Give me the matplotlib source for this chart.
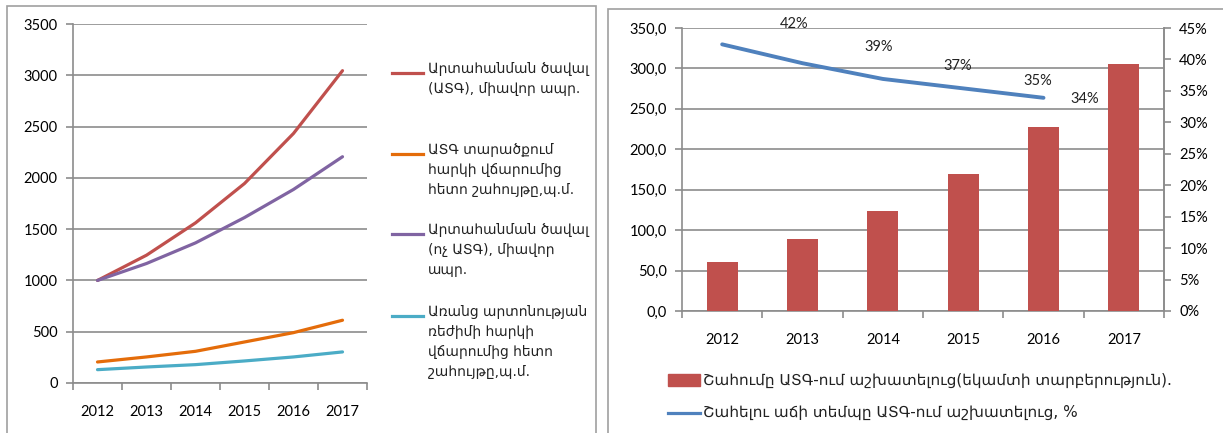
import numpy as np
import matplotlib
matplotlib.use("Agg")
import matplotlib.pyplot as plt
from matplotlib.lines import Line2D
from matplotlib.patches import Rectangle

plt.rcParams['font.family'] = ['Lato', 'DejaVu Sans']

# left chart data
years = ["2012", "2013", "2014", "2015", "2016", "2017"]
export_fez = [1000, 1246, 1561, 1945, 2433, 3045]
fez_profit = [205, 254, 309, 400, 491, 612]
export_non_fez = [1000, 1165, 1366, 1613, 1887, 2206]
no_privilege_profit = [130, 156, 179, 215, 254, 303]

left_labels = [
    "Արտահանման ծավալ\n(ԱՏԳ), միավոր ապր.",
    "ԱՏԳ տարածքում\nհարկի վճարումից\nհետո շահույթը,պ.մ.",
    "Արտահանման ծավալ\n(ոչ ԱՏԳ), միավոր\nապր.",
    "Առանց արտոնության\nռեժիմի հարկի\nվճարումից հետո\nշահույթը,պ.մ.",
]
left_colors = ["#C0504D", "#E46C0A", "#8064A2", "#4BACC6"]

# right chart data
gain = [60.6, 88.5, 123.5, 169.3, 228.0, 305.8]
gain_rate = [0.424, 0.394, 0.369, 0.354, 0.339]
rate_text = ["42%", "39%", "37%", "35%", "34%"]
right_labels = [
    "Շահումը ԱՏԳ-ում աշխատելուց(եկամտի տարբերություն).",
    "Շահելու աճի տեմպը ԱՏԳ-ում աշխատելուց, %",
]

grid_c = "#8C8C8C"
W, H = 1223, 433
fig = plt.figure(figsize=(W / 100, H / 100), dpi=100)


def fx(px):
    return px / W


def fy(py):
    return 1 - py / H


# panel frames
fig.add_artist(Rectangle((fx(7), fy(460)), fx(596) - fx(7), fy(6) - fy(460),
                         fill=False, edgecolor="#A0A0A0", lw=1.2, transform=fig.transFigure))
fig.add_artist(Rectangle((fx(608), fy(460)), fx(1260) - fx(608), fy(9) - fy(460),
                         fill=False, edgecolor="#A0A0A0", lw=1.2, transform=fig.transFigure))

# ---- left chart ----
ax = fig.add_axes([fx(73), fy(383), fx(367) - fx(73), fy(24) - fy(383)])
x = np.arange(len(years))
series = [export_fez, fez_profit, export_non_fez, no_privilege_profit]
for s, c in zip(series, left_colors):
    ax.plot(x, s, color=c, lw=2.3, solid_capstyle="round", zorder=3)

ax.set_xlim(-0.5, 5.5)
ax.set_ylim(0, 3500)
ax.set_yticks(np.arange(0, 3501, 500))
ax.yaxis.grid(True, color=grid_c, lw=1.2)
ax.set_axisbelow(True)
ax.set_xticks(np.arange(-0.5, 5.6, 1))
ax.set_xticklabels([])
ax.set_xticks(x, minor=True)
ax.set_xticklabels(years, minor=True)
ax.tick_params(axis="x", which="major", length=5, color=grid_c, width=1.2)
ax.tick_params(axis="x", which="minor", length=0, pad=16, labelsize=10.5)
ax.tick_params(axis="y", length=5, color=grid_c, width=1.2, pad=6, labelsize=10.5)
for side in ["top", "right"]:
    ax.spines[side].set_visible(False)
for side in ["left", "bottom"]:
    ax.spines[side].set_color(grid_c)
    ax.spines[side].set_linewidth(1.2)

# left legend
leg_y = [73, 154, 234, 316]
for yy, lab, c in zip(leg_y, left_labels, left_colors):
    fig.add_artist(Line2D([fx(392), fx(423)], [fy(yy), fy(yy)], color=c, lw=2.3,
                          transform=fig.transFigure))
    fig.text(fx(428), fy(yy - 11), lab, ha="left", va="top", fontsize=10,
             family=["DejaVu Sans"], linespacing=1.55, color="#222222")

# ---- right chart ----
ax1 = fig.add_axes([fx(682), fy(311), fx(1164) - fx(682), fy(28) - fy(311)])
ax1.bar(x, gain, width=0.385, color="#C0504D", zorder=3)
ax1.set_xlim(-0.5, 5.5)
ax1.set_ylim(0, 350)
ax1.set_yticks(np.arange(0, 351, 50))
ax1.set_yticklabels(["{:.1f}".format(v).replace(".", ",") for v in np.arange(0, 351, 50)])
ax1.yaxis.grid(True, color=grid_c, lw=1.2)
ax1.set_axisbelow(True)
ax1.set_xticks(np.arange(-0.5, 5.6, 1))
ax1.set_xticklabels([])
ax1.set_xticks(x, minor=True)
ax1.set_xticklabels(years, minor=True)
ax1.tick_params(axis="x", which="major", length=5, color=grid_c, width=1.2)
ax1.tick_params(axis="x", which="minor", length=0, pad=16, labelsize=10.5)
ax1.tick_params(axis="y", length=5, color=grid_c, width=1.2, pad=6, labelsize=10.5)
ax1.spines["top"].set_visible(False)
for side in ["left", "bottom", "right"]:
    ax1.spines[side].set_color(grid_c)
    ax1.spines[side].set_linewidth(1.2)

ax2 = ax1.twinx()
ax2.plot(x[:len(gain_rate)], gain_rate, color="#4F81BD", lw=2.8, solid_capstyle="round", zorder=4)
ax2.set_ylim(0, 0.45)
ax2.set_yticks(np.arange(0, 0.451, 0.05))
ax2.set_yticklabels(["{}%".format(int(round(v * 100))) for v in np.arange(0, 0.451, 0.05)])
ax2.tick_params(axis="y", length=5, color=grid_c, width=1.2, pad=6, labelsize=10.5)
for side in ["top", "left", "bottom"]:
    ax2.spines[side].set_visible(False)
ax2.spines["right"].set_color(grid_c)
ax2.spines["right"].set_linewidth(1.2)

label_offsets = [(52, 15), (55, 12), (54, 9), (54, 5), (30, -1)]
for xi, v, t, off in zip(x, gain_rate, rate_text, label_offsets):
    ax2.annotate(t, (xi, v), xytext=off, textcoords="offset points",
                 ha="center", va="center", fontsize=10.5, color="#222222")

# right legend
fig.add_artist(Rectangle((fx(668), fy(386)), fx(700) - fx(668), fy(374) - fy(386),
                         color="#C0504D", transform=fig.transFigure))
fig.add_artist(Line2D([fx(668), fx(700)], [fy(413), fy(413)], color="#4F81BD", lw=2.3,
                      transform=fig.transFigure))
fig.text(fx(703), fy(380), right_labels[0], ha="left", va="center", fontsize=11,
         family=["DejaVu Sans"], color="#222222")
fig.text(fx(703), fy(412), right_labels[1], ha="left", va="center", fontsize=11,
         family=["DejaVu Sans"], color="#222222")

fig.savefig("out.png", dpi=100)
